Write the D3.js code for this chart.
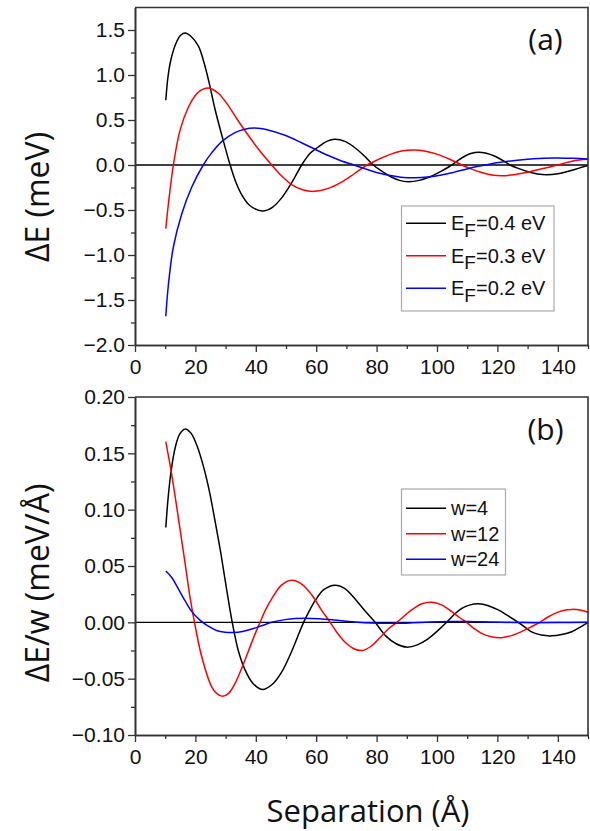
<!DOCTYPE html>
<html>
<head>
<meta charset="utf-8">
<script src="https://cdn.jsdelivr.net/npm/d3@7"></script>
<style>
  html, body { margin: 0; padding: 0; background: #fff; }
  svg { display: block; }
</style>
</head>
<body>
<svg id="chart" width="590" height="831"></svg>
<script>
// ---------- data ----------
// Separation axis (Å)
const separationTicks = [0, 20, 40, 60, 80, 100, 120, 140];
const separationMinorTicks = [10, 30, 50, 70, 90, 110, 130, 150];

// (a) ΔE (meV) against separation for three Fermi energies
const energyTicks = [-2.0, -1.5, -1.0, -0.5, 0.0, 0.5, 1.0, 1.5];
const energyMinorTicks = [-1.75, -1.25, -0.75, -0.25, 0.25, 0.75, 1.25];
const fermiLabels = ["=0.4 eV", "=0.3 eV", "=0.2 eV"];

const ef04 = [[10.2, 0.72], [11.0, 1.0], [12.1, 1.2], [13.8, 1.37], [15.2, 1.445], [16.6, 1.467],
  [18.5, 1.43], [21, 1.32], [23, 1.12], [24.5, 0.92], [26.5, 0.62], [29, 0.3], [31.5, 0],
  [33.5, -0.2], [35.5, -0.34], [38, -0.45], [42.2, -0.511], [45.5, -0.47], [48.7, -0.36],
  [52, -0.19], [55.2, 0], [58, 0.13], [60.7, 0.2], [63.5, 0.262], [66.2, 0.285], [69.5, 0.262],
  [72.5, 0.2], [75.7, 0.109], [78.9, 0], [81.8, -0.071], [84.7, -0.131], [87.6, -0.171],
  [90.5, -0.185], [94.1, -0.171], [97.7, -0.131], [101.3, -0.071], [104.9, 0], [107.1, 0.054],
  [109.3, 0.1], [111.5, 0.13], [113.7, 0.141], [116.3, 0.13], [119, 0.1], [121.6, 0.054],
  [124.2, 0], [127.2, -0.041], [130.2, -0.076], [133.3, -0.099], [136.3, -0.107],
  [140, -0.097], [143.5, -0.07], [147, -0.035], [150, -0.005]];

const ef03 = [[10.2, -0.707], [11.0, -0.45], [12.7, 0], [14.9, 0.385], [17.7, 0.644],
  [19.9, 0.77], [22, 0.835], [24.3, 0.856], [27.5, 0.8], [30.9, 0.66], [34, 0.5], [37.5, 0.33],
  [41.5, 0.15], [45.3, 0], [48.5, -0.12], [52, -0.22], [55.5, -0.275], [59.3, -0.293],
  [64, -0.26], [68.4, -0.19], [72.5, -0.1], [76.8, 0], [80.8, 0.065], [84.5, 0.118],
  [88.3, 0.155], [92.2, 0.167], [96.2, 0.154], [100.2, 0.118], [104.2, 0.064], [108.2, 0],
  [111.5, -0.046], [114.8, -0.084], [118.1, -0.11], [121.4, -0.119], [126, -0.105],
  [130.8, -0.074], [135.5, -0.037], [140, 0], [145, 0.045], [150, 0.063]];

const ef02 = [[10.2, -1.681], [11.0, -1.35], [12.7, -0.911], [15.5, -0.541], [18.8, -0.244],
  [22.6, 0], [25.5, 0.14], [28.7, 0.26], [33.1, 0.36], [36, 0.395], [39.7, 0.411], [44, 0.39],
  [49.7, 0.33], [55, 0.25], [59.6, 0.175], [64, 0.105], [68.4, 0.045], [72.5, 0], [76, -0.04],
  [80, -0.083], [84, -0.115], [88, -0.135], [92.7, -0.141], [97, -0.133], [101.5, -0.111],
  [105.5, -0.082], [109.3, -0.05], [112.5, -0.022], [115.9, 0], [120.5, 0.027], [125.8, 0.05],
  [132, 0.069], [139, 0.078], [145, 0.074], [150, 0.067]];

// (b) ΔE/w (meV/Å) against separation for three widths
const perWidthTicks = [-0.10, -0.05, 0.00, 0.05, 0.10, 0.15, 0.20];
const perWidthMinorTicks = [-0.075, -0.025, 0.025, 0.075, 0.125, 0.175];
const widthLabels = ["w=4", "w=12", "w=24"];

const w4 = [[10.2, 0.0842], [11.0, 0.1115], [12.0, 0.135], [13.3, 0.155], [14.8, 0.167],
  [16.6, 0.1716], [18.5, 0.168], [20.5, 0.157], [22.5, 0.14], [24.5, 0.118], [26.5, 0.09],
  [28.5, 0.06], [30.3, 0.03], [32.2, 0], [34.2, -0.025], [36.4, -0.042], [39, -0.054],
  [42.2, -0.0597], [45.5, -0.055], [48.6, -0.044], [52, -0.025], [55.5, -0.002], [57.5, 0.009],
  [59.6, 0.019], [62.5, 0.029], [66.2, 0.033], [69.5, 0.03], [72.8, 0.021], [76.2, 0.01],
  [79.5, 0], [83, -0.012], [86.5, -0.019], [89.9, -0.022], [93.5, -0.02], [96.9, -0.015],
  [100, -0.008], [103.2, 0], [105.7, 0.007], [108.2, 0.0124], [111, 0.0155], [113.7, 0.0164],
  [117, 0.0148], [120.3, 0.011], [123.6, 0.0057], [126.9, 0], [129, -0.004], [131.3, -0.0085],
  [134.5, -0.0113], [138, -0.012], [141.3, -0.0108], [144.6, -0.0083], [147.3, -0.0045],
  [150, 0]];

const w12 = [[10.2, 0.1603], [12.1, 0.132], [14.3, 0.0937], [16.6, 0.0522], [18.2, 0.0226],
  [19.7, 0], [22.1, -0.0306], [25.4, -0.0573], [27, -0.063], [29.0, -0.0656], [31, -0.063],
  [33.1, -0.0544], [35.3, -0.041], [37.5, -0.026], [39.5, -0.012], [41.4, 0], [43.3, 0.0115],
  [45.3, 0.021], [48.5, 0.033], [51.9, 0.0373], [55.2, 0.034], [58.5, 0.0245], [61.5, 0.012],
  [64.6, 0], [67, -0.0095], [69.5, -0.0175], [72.3, -0.0232], [75.3, -0.025], [78.3, -0.021],
  [81.5, -0.0125], [84, -0.0055], [86.7, 0], [91.6, 0.011], [95, 0.0165], [98.2, 0.0178],
  [101.5, 0.0155], [104.9, 0.0095], [107.3, 0.0045], [109.8, 0], [112.3, -0.0055],
  [114.8, -0.0098], [118, -0.0128], [121.4, -0.0136], [124.7, -0.0118], [128, -0.0083],
  [131, -0.0042], [134.1, 0], [136.6, 0.0045], [139.1, 0.008], [141.8, 0.0105],
  [144.6, 0.0115], [147.3, 0.011], [150, 0.0089]];

const w24 = [[10.2, 0.0455], [12.1, 0.040], [14.3, 0.030], [16.6, 0.019], [18.8, 0.0095],
  [21.5, 0.002], [24, -0.003], [27, -0.0072], [29.8, -0.0088], [32.6, -0.0091],
  [35.6, -0.0082], [38.6, -0.006], [42, -0.003], [45.3, 0], [49.7, 0.0024], [53, 0.0034],
  [56.3, 0.0037], [61, 0.0032], [66.2, 0.002], [71, 0.0007], [76, -0.0003], [81, -0.0008],
  [86, -0.0009], [92, -0.0004], [98, 0.0003], [104, 0.0007], [110, 0.0007], [117, 0.0003],
  [125, -0.0001], [132, -0.0003], [140, -0.0002], [150, 0]];

// ---------- drawing ----------
const seriesColors = ["#000000", "#ff0000", "#0000ff"];
const tickFont = "'Liberation Sans', Arial, sans-serif";
const titleFont = "'Open Sans', 'Noto Sans', sans-serif";
const axisColor = "#333";

const svg = d3.select("#chart");
const plotLeft = 135, plotRight = 588;

const x = d3.scaleLinear().domain([0, 150]).range([plotLeft, plotRight]);

function drawPanel(p) {
  const y = d3.scaleLinear().domain(p.yDomain).range([p.bottom, p.top]);
  const g = svg.append("g");

  // zero reference line
  g.append("line")
    .attr("x1", plotLeft).attr("x2", plotRight)
    .attr("y1", y(0)).attr("y2", y(0))
    .attr("stroke", "#000").attr("stroke-width", 1.4);

  // curves
  const line = d3.line()
    .x(d => x(d[0])).y(d => y(d[1]))
    .curve(d3.curveCatmullRom.alpha(0.5));
  p.series.forEach((s, i) => {
    g.append("path").datum(s)
      .attr("d", line)
      .attr("fill", "none")
      .attr("stroke", seriesColors[i])
      .attr("stroke-width", 1.5);
  });

  // frame (top and right)
  g.append("path")
    .attr("d", `M${plotLeft},${p.top}H${plotRight}V${p.bottom}`)
    .attr("fill", "none").attr("stroke", axisColor).attr("stroke-width", 1.6);

  // x axis
  const xMinor = g.append("g").attr("transform", `translate(0,${p.bottom})`)
    .call(d3.axisBottom(x).tickValues(separationMinorTicks).tickSize(4).tickSizeOuter(0).tickFormat(""));
  const xMajor = g.append("g").attr("transform", `translate(0,${p.bottom})`)
    .call(d3.axisBottom(x).tickValues(separationTicks).tickSize(7).tickSizeOuter(0).tickPadding(7.5)
      .tickFormat(d3.format("d")));

  // y axis
  const yMinor = g.append("g").attr("transform", `translate(${plotLeft},0)`)
    .call(d3.axisLeft(y).tickValues(p.minorTicks).tickSize(4).tickSizeOuter(0).tickFormat(""));
  const yMajor = g.append("g").attr("transform", `translate(${plotLeft},0)`)
    .call(d3.axisLeft(y).tickValues(p.ticks).tickSize(7).tickSizeOuter(0).tickPadding(3)
      .tickFormat(d3.format(p.fmt)));

  [xMinor, xMajor, yMinor, yMajor].forEach(a => {
    a.select(".domain").attr("stroke", axisColor).attr("stroke-width", 1.6);
    a.selectAll(".tick line").attr("stroke", axisColor).attr("stroke-width", 1.3);
    a.selectAll(".tick text").attr("fill", "#111")
      .style("font-family", tickFont).style("font-size", "21px");
  });

  // y title
  g.append("text")
    .attr("transform", `translate(49,${p.titleY}) rotate(-90)`)
    .attr("text-anchor", "middle")
    .style("font-family", titleFont).style("font-size", "32px")
    .attr("fill", "#111")
    .text(p.title);

  // panel tag
  g.append("text")
    .attr("x", 545.5).attr("y", p.tagY)
    .attr("text-anchor", "middle")
    .style("font-family", titleFont).style("font-size", "30px")
    .attr("fill", "#111")
    .text(p.tag);

  // legend
  const L = p.legend;
  g.append("rect")
    .attr("x", L.x).attr("y", L.y).attr("width", L.w).attr("height", L.h)
    .attr("fill", "#fff").attr("stroke", "#aaa").attr("stroke-width", 1.2);
  p.labels.forEach((lab, i) => {
    const cy = L.firstY + i * L.step;
    g.append("line")
      .attr("x1", 406).attr("x2", 446).attr("y1", cy).attr("y2", cy)
      .attr("stroke", seriesColors[i]).attr("stroke-width", 1.5);
    const t = g.append("text")
      .attr("x", 451).attr("y", cy + 7)
      .style("font-family", tickFont).style("font-size", "20px")
      .attr("fill", "#111");
    if (p.subscript) {
      t.append("tspan").text("E");
      t.append("tspan").attr("dy", 6.5).style("font-size", "19px").text("F");
      t.append("tspan").attr("dy", -6.5).text(lab);
    } else {
      t.text(lab);
    }
  });
}

drawPanel({
  top: 7.5, bottom: 345, yDomain: [-2, 1.75],
  ticks: energyTicks, minorTicks: energyMinorTicks, fmt: ".1f",
  series: [ef04, ef03, ef02],
  title: "ΔE (meV)", titleY: 197,
  tag: "(a)", tagY: 50,
  labels: fermiLabels, subscript: true,
  legend: { x: 401.5, y: 206, w: 152.5, h: 105, firstY: 223.3, step: 32.5 }
});

drawPanel({
  top: 397, bottom: 735, yDomain: [-0.1, 0.2],
  ticks: perWidthTicks, minorTicks: perWidthMinorTicks, fmt: ".2f",
  series: [w4, w12, w24],
  title: "ΔE/w (meV/Å)", titleY: 583,
  tag: "(b)", tagY: 440,
  labels: widthLabels, subscript: false,
  legend: { x: 401.5, y: 489, w: 104, h: 86, firstY: 508.3, step: 25.5 }
});

// shared x title
svg.append("text")
  .attr("x", 368).attr("y", 821.5)
  .attr("text-anchor", "middle")
  .style("font-family", titleFont).style("font-size", "31px")
  .attr("fill", "#111")
  .text("Separation (Å)");
</script>
</body>
</html>
